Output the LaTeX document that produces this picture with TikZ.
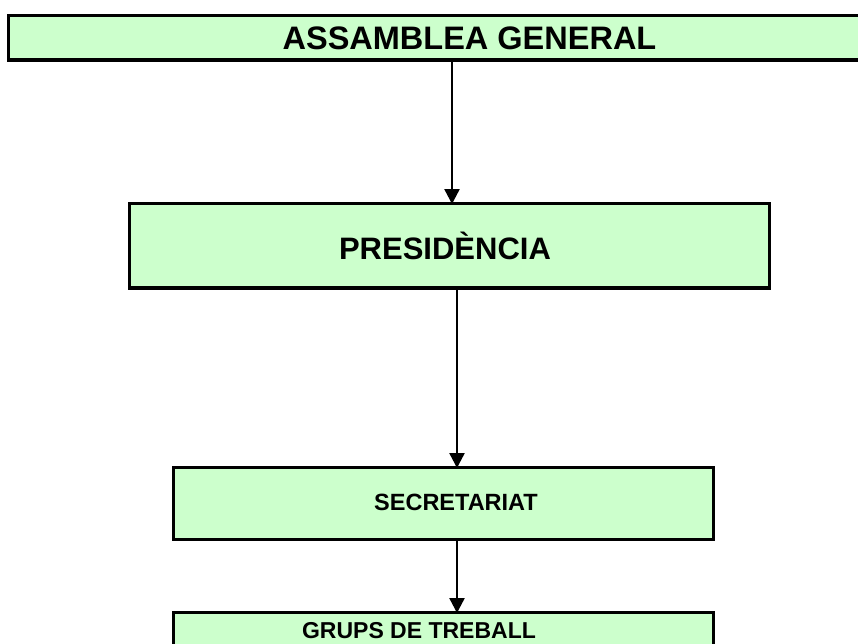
\documentclass[tikz,border=0pt]{standalone}
\usepackage{fontspec}
\setmainfont{Liberation Sans}
\usetikzlibrary{arrows.meta}
\definecolor{boxgreen}{HTML}{CCFFCC}
\tikzset{
  orgbox/.style={draw=black, line width=3.2pt, fill=boxgreen, rectangle, inner sep=0pt, outer sep=0pt},
  lbl/.style={inner sep=0pt, font=\bfseries},
  arr/.style={line width=2.4pt, -{Triangle[length=15pt,width=15pt]}, shorten >=-0.5pt}
}
\begin{document}
\begin{tikzpicture}[x=1pt,y=-1pt]
\useasboundingbox (0,0) rectangle (858,643);
\clip (0,0) rectangle (858,643);
\fill[white] (0,0) rectangle (858,643);
\node[orgbox, minimum width=922pt, minimum height=44.5pt] (b1) at (469.5,37.75) {};
\node[orgbox, minimum width=640pt, minimum height=84.5pt] (b2) at (449.5,245.75) {};
\node[orgbox, minimum width=540pt, minimum height=72pt] (b3) at (443.5,503.5) {};
\node[orgbox, minimum width=540pt, minimum height=60pt] (b4) at (443.5,642.5) {};
\node[lbl, font=\bfseries\fontsize{32.5}{36}\selectfont] (t1) at (469.5,38) {ASSAMBLEA GENERAL};
\node[lbl, font=\bfseries\fontsize{31}{34}\selectfont] (t2) at (445,245.5) {PRESIDÈNCIA};
\node[lbl, font=\bfseries\fontsize{23.5}{26}\selectfont] (t3) at (456,502.5) {SECRETARIAT};
\node[lbl, font=\bfseries\fontsize{23}{26}\selectfont] (t4) at (419,631) {GRUPS DE TREBALL};
\coordinate (a1) at (452,0);
\coordinate (a2) at (457,0);
\draw[arr] (b1.south -| a1) -- (b2.north -| a1);
\draw[arr] (b2.south -| a2) -- (b3.north -| a2);
\draw[arr] (b3.south -| a2) -- (b4.north -| a2);
\end{tikzpicture}
\end{document}
